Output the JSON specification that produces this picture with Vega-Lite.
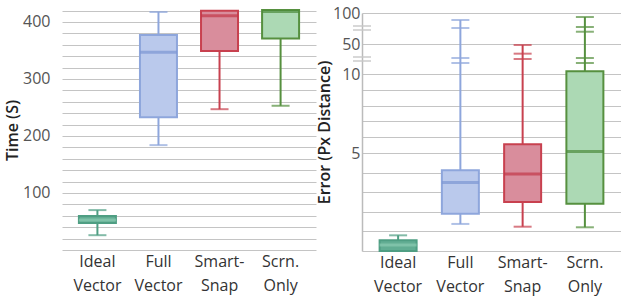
{
  "$schema": "https://vega.github.io/schema/vega-lite/v6.json",
  "padding": {"left": 4, "top": 5, "right": 0, "bottom": 6},
  "spacing": 0,
  "datasets": {
    "timeBox": [
      {"g": "Ideal Vector", "lo": 26, "q1": 47.4, "med": 52.6, "q3": 59.6, "hi": 70},
      {"g": "Full Vector", "lo": 184, "q1": 233, "med": 347, "q3": 377, "hi": 417.5},
      {"g": "Smart-Snap", "lo": 247, "q1": 349, "med": 411, "q3": 419.5, "hi": 419.5},
      {"g": "Scrn. Only", "lo": 253, "q1": 371, "med": 418.5, "q3": 421, "hi": 421}
    ],
    "timeCaps": [
      {"g": "Ideal Vector", "v": 26},
      {"g": "Ideal Vector", "v": 70},
      {"g": "Full Vector", "v": 184},
      {"g": "Full Vector", "v": 417.5},
      {"g": "Smart-Snap", "v": 247},
      {"g": "Scrn. Only", "v": 253}
    ],
    "errBox": [
      {"g": "Ideal Vector", "lo": 0, "q1": 0, "med": 0.3, "q3": 0.55, "hi": 0.8},
      {"g": "Full Vector", "lo": 1.38, "q1": 1.9, "med": 3.5, "q3": 4.12, "hi": 88.7},
      {"g": "Smart-Snap", "lo": 1.24, "q1": 2.5, "med": 3.93, "q3": 5.55, "hi": 48.7},
      {"g": "Scrn. Only", "lo": 1.21, "q1": 2.41, "med": 5.1, "q3": 13.6, "hi": 93.5}
    ],
    "errCaps": [
      {"g": "Ideal Vector", "v": 0.8},
      {"g": "Full Vector", "v": 1.38},
      {"g": "Full Vector", "v": 88.7},
      {"g": "Full Vector", "v": 75.8},
      {"g": "Full Vector", "v": 31.3},
      {"g": "Full Vector", "v": 24.7},
      {"g": "Smart-Snap", "v": 1.24},
      {"g": "Smart-Snap", "v": 48.7},
      {"g": "Smart-Snap", "v": 37.1},
      {"g": "Smart-Snap", "v": 30},
      {"g": "Scrn. Only", "v": 1.21},
      {"g": "Scrn. Only", "v": 93.5},
      {"g": "Scrn. Only", "v": 77.4},
      {"g": "Scrn. Only", "v": 69.8},
      {"g": "Scrn. Only", "v": 31.3},
      {"g": "Scrn. Only", "v": 24.7}
    ],
    "breaks": [
      {"b": 79}, {"b": 72.6}, {"b": 32.7}, {"b": 27.3}
    ]
  },
  "hconcat": [
    {
      "width": 254,
      "height": 240,
      "layer": [
        {
          "data": {"name": "timeBox"},
          "mark": {"type": "rule", "strokeWidth": 2},
          "encoding": {
            "y": {"field": "lo", "type": "quantitative"},
            "y2": {"field": "hi"},
            "color": {"field": "g", "type": "nominal", "legend": null,
              "scale": {"domain": ["Ideal Vector", "Full Vector", "Smart-Snap", "Scrn. Only"], "range": ["#4f9e83", "#8ea6dc", "#c8414f", "#56903f"]}}
          }
        },
        {
          "data": {"name": "timeBox"},
          "mark": {"type": "bar", "size": 37, "strokeWidth": 2},
          "encoding": {
            "y": {"field": "q1", "type": "quantitative"},
            "y2": {"field": "q3"},
            "fill": {"field": "g", "type": "nominal", "legend": null,
              "scale": {"domain": ["Ideal Vector", "Full Vector", "Smart-Snap", "Scrn. Only"], "range": ["#62ad93", "#bac9ec", "#d98d9c", "#acd9b4"]}},
            "stroke": {"field": "g", "type": "nominal", "legend": null,
              "scale": {"domain": ["Ideal Vector", "Full Vector", "Smart-Snap", "Scrn. Only"], "range": ["#4f9e83", "#8ea6dc", "#c8414f", "#56903f"]}}
          }
        },
        {
          "data": {"name": "timeBox"},
          "mark": {"type": "tick", "size": 37, "thickness": 3},
          "encoding": {
            "y": {"field": "med", "type": "quantitative"},
            "color": {"field": "g", "type": "nominal", "legend": null,
              "scale": {"domain": ["Ideal Vector", "Full Vector", "Smart-Snap", "Scrn. Only"], "range": ["#8ccbb2", "#7c95d3", "#c23849", "#4c8a3a"]}}
          }
        },
        {
          "data": {"name": "timeCaps"},
          "mark": {"type": "tick", "size": 18, "thickness": 2},
          "encoding": {
            "y": {"field": "v", "type": "quantitative"},
            "color": {"field": "g", "type": "nominal", "legend": null,
              "scale": {"domain": ["Ideal Vector", "Full Vector", "Smart-Snap", "Scrn. Only"], "range": ["#4f9e83", "#8ea6dc", "#c8414f", "#56903f"]}}
          }
        }
      ],
      "encoding": {
        "x": {"field": "g", "type": "nominal", "sort": ["Ideal Vector", "Full Vector", "Smart-Snap", "Scrn. Only"],
          "scale": {"paddingInner": 0, "paddingOuter": 0.08},
          "axis": {"title": null, "labelAngle": 0, "ticks": false, "domain": false, "labelPadding": 3, "labelFontSize": 16, "labelColor": "#333", "labelLineHeight": 24, "labelBaseline": "top",
            "labelExpr": "datum.label == 'Smart-Snap' ? ['Smart-', 'Snap'] : split(datum.label, ' ')"}},
        "y": {"type": "quantitative",
          "scale": {"domain": [0, 421], "nice": false, "zero": false},
          "axis": {"title": "Time (S)", "values": [0, 20, 40, 60, 80, 100, 120, 140, 160, 180, 200, 220, 240, 260, 280, 300, 320, 340, 360, 380, 400, 420],
            "labelExpr": "datum.value % 100 == 0 && datum.value > 0 ? datum.label : ''",
            "ticks": false, "domain": false, "labelPadding": 12, "labelFontSize": 16, "labelColor": "#555", "titleFontSize": 16, "titleFontWeight": 600, "titleColor": "#222", "titlePadding": 2}}
      },
      "resolve": {"scale": {"color": "independent"}}
    },
    {
      "width": 259,
      "height": 241,
      "layer": [
        {
          "layer": [
            {
              "data": {"name": "errBox"},
              "mark": {"type": "rule", "strokeWidth": 2},
              "encoding": {
                "y": {"field": "lo", "type": "quantitative"},
                "y2": {"field": "hi"},
                "color": {"field": "g", "type": "nominal", "legend": null,
                  "scale": {"domain": ["Ideal Vector", "Full Vector", "Smart-Snap", "Scrn. Only"], "range": ["#4f9e83", "#8ea6dc", "#c8414f", "#56903f"]}}
              }
            },
            {
              "data": {"name": "errBox"},
              "mark": {"type": "bar", "size": 37, "strokeWidth": 2},
              "encoding": {
                "y": {"field": "q1", "type": "quantitative"},
                "y2": {"field": "q3"},
                "fill": {"field": "g", "type": "nominal", "legend": null,
                  "scale": {"domain": ["Ideal Vector", "Full Vector", "Smart-Snap", "Scrn. Only"], "range": ["#62ad93", "#bac9ec", "#d98d9c", "#acd9b4"]}},
                "stroke": {"field": "g", "type": "nominal", "legend": null,
                  "scale": {"domain": ["Ideal Vector", "Full Vector", "Smart-Snap", "Scrn. Only"], "range": ["#4f9e83", "#8ea6dc", "#c8414f", "#56903f"]}}
              }
            },
            {
              "data": {"name": "errBox"},
              "mark": {"type": "tick", "size": 37, "thickness": 3},
              "encoding": {
                "y": {"field": "med", "type": "quantitative"},
                "color": {"field": "g", "type": "nominal", "legend": null,
                  "scale": {"domain": ["Ideal Vector", "Full Vector", "Smart-Snap", "Scrn. Only"], "range": ["#8ccbb2", "#7c95d3", "#c23849", "#4c8a3a"]}}
              }
            },
            {
              "data": {"name": "errCaps"},
              "mark": {"type": "tick", "size": 18, "thickness": 2},
              "encoding": {
                "y": {"field": "v", "type": "quantitative"},
                "color": {"field": "g", "type": "nominal", "legend": null,
                  "scale": {"domain": ["Ideal Vector", "Full Vector", "Smart-Snap", "Scrn. Only"], "range": ["#4f9e83", "#8ea6dc", "#c8414f", "#56903f"]}}
              }
            }
          ],
          "encoding": {
            "x": {"field": "g", "type": "nominal", "sort": ["Ideal Vector", "Full Vector", "Smart-Snap", "Scrn. Only"],
              "scale": {"paddingInner": 0, "paddingOuter": 0.08},
              "axis": {"title": null, "labelAngle": 0, "ticks": false, "domain": false, "labelPadding": 3, "labelFontSize": 16, "labelColor": "#333", "labelLineHeight": 24, "labelBaseline": "top",
                "labelExpr": "datum.label == 'Smart-Snap' ? ['Smart-', 'Snap'] : split(datum.label, ' ')"}}
          },
          "resolve": {"scale": {"color": "independent"}}
        },
        {
          "data": {"name": "breaks"},
          "mark": {"type": "tick", "orient": "horizontal", "size": 18, "thickness": 2, "color": "#c8c8c8"},
          "encoding": {
            "x": {"datum": 0, "type": "quantitative", "scale": {"domain": [0, 1]}, "axis": null},
            "y": {"field": "b", "type": "quantitative"}
          }
        }
      ],
      "encoding": {
        "y": {"type": "quantitative",
          "scale": {"domain": [0, 5, 10, 50, 100], "range": [241, 143, 64, 34, 3], "nice": false, "zero": false},
          "axis": {"title": "Error (Px Distance)", "values": [0, 1, 2, 3, 4, 5, 6, 7, 8, 9, 10, 50, 100],
            "labelExpr": "indexof([5, 10, 50, 100], datum.value) >= 0 ? datum.label : ''",
            "ticks": false, "domain": true, "domainColor": "#bbbbbb", "domainWidth": 1.5, "labelPadding": 2, "labelFontSize": 16, "labelColor": "#555", "titleFontSize": 16, "titleFontWeight": 600, "titleColor": "#222", "titlePadding": 0}}
      },
      "resolve": {"scale": {"x": "independent"}}
    }
  ],
  "config": {
    "font": "Open Sans",
    "view": {"stroke": null},
    "axis": {"gridColor": "#c4c4c4", "gridWidth": 1, "labelFont": "Open Sans", "titleFont": "Open Sans"}
  }
}
